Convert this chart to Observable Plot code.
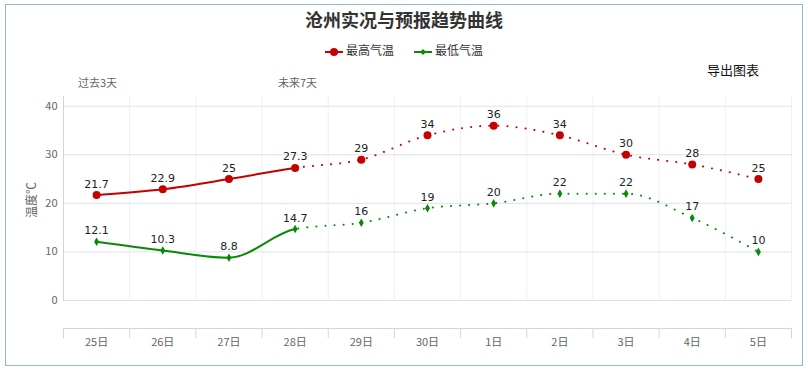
<!DOCTYPE html>
<html><head><meta charset="utf-8">
<script src="https://cdn.jsdelivr.net/npm/d3@7"></script>
<script src="https://cdn.jsdelivr.net/npm/@observablehq/plot@0.6"></script>
<style>
body{margin:0;background:#fff;font-family:"Noto Sans CJK SC","Noto Sans",sans-serif;}
#wrap{position:relative;width:808px;height:370px;overflow:hidden;}
.abs{position:absolute;white-space:nowrap;}
#frame{left:5px;top:4px;width:798px;height:362px;border:1px solid #93b6d2;box-sizing:border-box;}
#title{left:0;width:808px;top:6px;text-align:center;font-size:18px;font-weight:bold;color:#333;line-height:26px;}
#legend{left:0;width:808px;top:41px;text-align:center;font-size:12px;color:#333;line-height:18px;}
#legend span.item{display:inline-block;margin:0 10px;}
#legend svg{vertical-align:middle;margin-right:3px;}
#export{left:707px;top:61px;font-size:13px;color:#111;line-height:18px;}
.period{top:74px;font-size:11px;color:#666;line-height:16px;}
#ylabel{left:30px;top:200px;transform:translate(-50%,-50%) rotate(-90deg);font-size:12px;color:#666;}
#chart{position:absolute;left:0;top:0;}
svg g[aria-label^="x-axis"] line, svg g[aria-label^="x-axis"] path{stroke:#ccd6eb;}
</style>
</head><body>
<div id="wrap">
  <div id="frame" class="abs"></div>
  <div id="title" class="abs">沧州实况与预报趋势曲线</div>
  <div id="legend" class="abs"></div>
  <div id="export" class="abs">导出图表</div>
  <div class="abs period" id="past" style="left:78px">过去3天</div>
  <div class="abs period" id="future" style="left:278px">未来7天</div>
  <div id="ylabel" class="abs">温度℃</div>
  <div id="chart"></div>
</div>
<script>
// ---- data ----
const days = ["25日","26日","27日","28日","29日","30日","1日","2日","3日","4日","5日"];
const maxTemp = [21.7, 22.9, 25, 27.3, 29, 34, 36, 34, 30, 28, 25];
const minTemp = [12.1, 10.3, 8.8, 14.7, 16, 19, 20, 22, 22, 17, 10];
const yTicks = [0, 10, 20, 30, 40];
const seriesNames = ["最高气温", "最低气温"];
const lastObservedIndex = 3; // 28日: solid up to here, dotted after

// ---- styling ----
const red = "#c40000", green = "#088a08";
const yDomain = [-5.77, 42];

const records = days.map((day, i) => ({i, day, hi: maxTemp[i], lo: minTemp[i]}));
const boundaries = d3.range(days.length + 1).map(k => k - 0.5);

// legend
const legend = document.getElementById("legend");
[[seriesNames[0], red, "circle"], [seriesNames[1], green, "diamond"]].forEach(([name, color, sym]) => {
  const s = document.createElement("span");
  s.className = "item";
  const marker = sym === "circle"
    ? `<circle cx="9" cy="6" r="4" fill="${color}"/>`
    : `<path d="M9,3L12,6L9,9L6,6Z" fill="${color}"/>`;
  s.innerHTML = `<svg width="18" height="12"><line x1="0" x2="18" y1="6" y2="6" stroke="${color}" stroke-width="2"/>${marker}</svg>${name}`;
  legend.appendChild(s);
});

const lineOpts = (key, color) => ({x: "i", y: key, stroke: color, strokeWidth: 2, curve: "monotone-x"});

const chart = Plot.plot({
  width: 808, height: 370,
  marginLeft: 63, marginRight: 17, marginTop: 96, marginBottom: 42,
  style: {fontFamily: "'Noto Sans CJK SC','Noto Sans',sans-serif", fontSize: "11px", color: "#666", background: "transparent"},
  x: {domain: [-0.5, days.length - 0.5], ticks: boundaries, tickSize: 10, tickFormat: () => "", label: null},
  y: {domain: yDomain, ticks: yTicks, tickSize: 0, tickPadding: 6, label: null},
  marks: [
    Plot.ruleX(boundaries, {y1: 0, y2: yDomain[1], stroke: "#eef0f4"}),
    Plot.ruleY(yTicks, {stroke: "#dde2ea"}),
    Plot.ruleX([boundaries[0]], {y1: 0, y2: yDomain[1], stroke: "#ccd6eb"}),
    Plot.ruleY([yDomain[0]], {stroke: "#ccd6eb"}),
    Plot.text(records, {x: "i", text: "day", frameAnchor: "bottom", dy: 17, fill: "#666", fontSize: 11}),
    Plot.line(records, {...lineOpts("hi", red), className: "seg-past"}),
    Plot.line(records, {...lineOpts("hi", red), strokeDasharray: "0.1,9", strokeLinecap: "round", className: "seg-future"}),
    Plot.line(records, {...lineOpts("lo", green), className: "seg-past"}),
    Plot.line(records, {...lineOpts("lo", green), strokeDasharray: "0.1,9", strokeLinecap: "round", className: "seg-future"}),
    Plot.dot(records, {x: "i", y: "hi", r: 4, fill: red}),
    Plot.dot(records, {x: "i", y: "lo", r: 2.6, symbol: "diamond", fill: green}),
    Plot.text(records, {x: "i", y: "hi", text: d => String(d.hi), dy: -11, fill: "#222", fontSize: 11, fontFamily: "'DejaVu Sans',sans-serif"}),
    Plot.text(records, {x: "i", y: "lo", text: d => String(d.lo), dy: -11, fill: "#222", fontSize: 11, fontFamily: "'DejaVu Sans',sans-serif"})
  ]
});

// split the curves into solid (observed) and dotted (forecast) parts at 28日
const splitX = chart.scale("x").apply(lastObservedIndex);
const svg = d3.select(chart);
const defs = svg.insert("defs", ":first-child");
defs.append("clipPath").attr("id", "clip-past").append("rect")
  .attr("x", -10).attr("y", -10).attr("width", splitX + 10).attr("height", 400);
defs.append("clipPath").attr("id", "clip-future").append("rect")
  .attr("x", splitX).attr("y", -10).attr("width", 820 - splitX).attr("height", 400);
svg.selectAll("g.seg-past").attr("clip-path", "url(#clip-past)");
svg.selectAll("g.seg-future").attr("clip-path", "url(#clip-future)");

document.getElementById("chart").appendChild(chart);
</script>
</body></html>
